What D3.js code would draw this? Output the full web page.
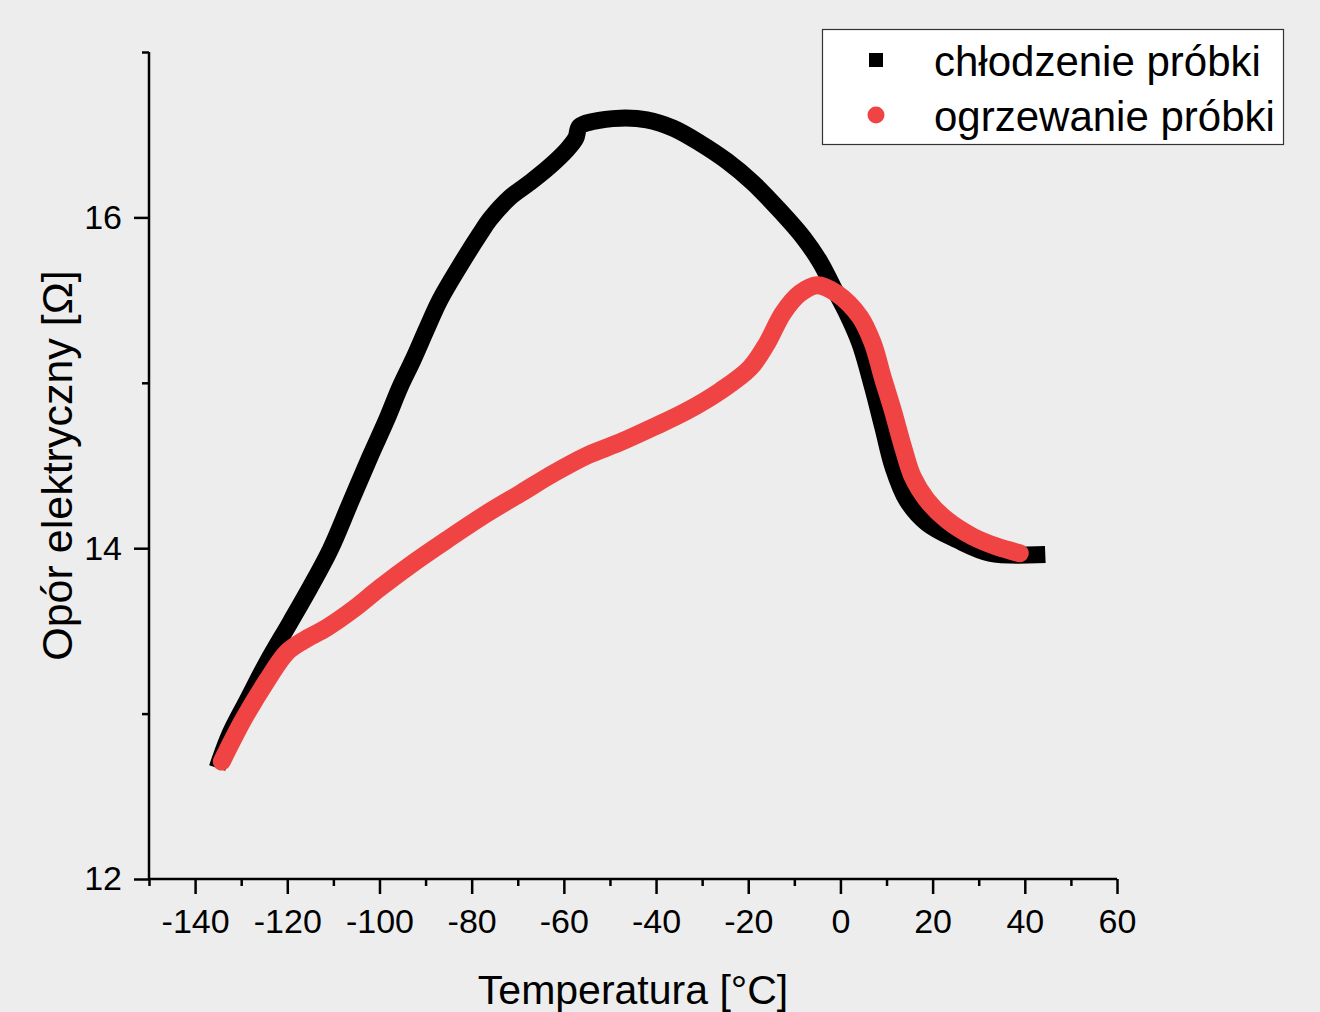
<!DOCTYPE html>
<html><head><meta charset="utf-8">
<script src="https://cdn.jsdelivr.net/npm/d3@7"></script>
<style>
html,body{margin:0;padding:0;background:#ededed;}
svg{display:block;font-family:"Liberation Sans", Arial, Helvetica, sans-serif;}
</style>
</head><body>
<svg id="chart" width="1320" height="1012"></svg>
<script>
// ---- data ----
const seriesNames = ["chłodzenie próbki", "ogrzewanie próbki"];
const coolingT = [42.6, 32.4, 25.3, 18.8, 14.4, 11.4, 9.2, 7.0, 4.2, 1.4, -1.6, -4.4, -8.1, -13.1, -19.0, -24.6, -30.5, -36.3, -42.0, -47.8, -53.7, -56.6, -57.4, -59.3, -63.0, -67.4, -71.7, -76.0, -78.2, -82.5, -86.9, -89.7, -92.7, -95.6, -98.4, -102.1, -106.4, -110.7, -115.1, -119.4, -124.4, -128.7, -132.4, -134.6];
const coolingR = [13.96, 13.97, 14.05, 14.15, 14.29, 14.49, 14.73, 14.97, 15.24, 15.42, 15.58, 15.73, 15.88, 16.04, 16.21, 16.34, 16.45, 16.54, 16.59, 16.60, 16.58, 16.55, 16.48, 16.41, 16.31, 16.21, 16.12, 15.99, 15.90, 15.71, 15.50, 15.33, 15.14, 14.97, 14.78, 14.55, 14.27, 13.99, 13.76, 13.55, 13.31, 13.08, 12.88, 12.72];
const heatingT = [-134.2, -129.6, -124.4, -120.1, -116.6, -111.4, -105.7, -99.9, -92.7, -85.4, -76.7, -69.5, -62.4, -55.0, -47.8, -40.7, -33.3, -26.1, -19.6, -15.9, -12.5, -8.8, -5.1, -0.8, 4.2, 7.0, 9.2, 11.4, 13.6, 15.7, 18.8, 23.1, 28.7, 33.9, 38.9];
const heatingR = [12.71, 12.96, 13.20, 13.37, 13.44, 13.52, 13.63, 13.76, 13.91, 14.05, 14.21, 14.33, 14.45, 14.56, 14.64, 14.73, 14.83, 14.95, 15.09, 15.24, 15.42, 15.54, 15.59, 15.54, 15.40, 15.24, 15.03, 14.83, 14.61, 14.43, 14.29, 14.17, 14.07, 14.01, 13.97];
const xMajorTicks = [-140, -120, -100, -80, -60, -40, -20, 0, 20, 40, 60];
const xMinorTicks = [-150, -130, -110, -90, -70, -50, -30, -10, 10, 30, 50];
const yMajorTicks = [12, 14, 16];
const yMinorTicks = [13, 15, 17];
const xTitle = "Temperatura [°C]";
const yTitle = "Opór elektryczny [Ω]";

// ---- layout ----
const svg = d3.select("#chart");
const mLeft = 149, mRight = 1117, mTop = 52, mBottom = 879;
const x = d3.scaleLinear().domain([-150, 60]).range([mLeft, mRight]);
const y = d3.scaleLinear().domain([12, 17]).range([mBottom, mTop]);

svg.append("rect").attr("width", 1320).attr("height", 1012).attr("fill", "#ededed");

// ---- series ----
const cooling = coolingT.map((t, i) => [t, coolingR[i]]);
const heating = heatingT.map((t, i) => [t, heatingR[i]]);
const line = d3.line().x(d => x(d[0])).y(d => y(d[1])).curve(d3.curveCatmullRom.alpha(0.5));

svg.append("path").datum(cooling)
  .attr("d", line).attr("fill", "none").attr("stroke", "#000")
  .attr("stroke-width", 17).attr("stroke-linecap", "square").attr("stroke-linejoin", "round");
svg.append("path").datum(heating)
  .attr("d", line).attr("fill", "none").attr("stroke", "#f04444")
  .attr("stroke-width", 18).attr("stroke-linecap", "round").attr("stroke-linejoin", "round");

// ---- axes ----
const fs = 34;
function styleAxis(g) {
  g.selectAll(".domain").remove();
  g.selectAll(".tick line").attr("stroke", "#000").attr("stroke-width", 2.5);
  g.selectAll(".tick text").attr("fill", "#000").attr("font-size", fs)
    .attr("font-family", '"Liberation Sans", Arial, sans-serif');
}
svg.append("g").attr("transform", `translate(0,${mBottom})`)
  .call(d3.axisBottom(x).tickValues(xMinorTicks).tickSize(7).tickFormat(""))
  .call(styleAxis);
svg.append("g").attr("transform", `translate(0,${mBottom})`)
  .call(d3.axisBottom(x).tickValues(xMajorTicks).tickSize(15).tickPadding(15).tickFormat(d3.format("d")))
  .call(styleAxis);
svg.append("g").attr("transform", `translate(${mLeft},0)`)
  .call(d3.axisLeft(y).tickValues(yMinorTicks).tickSize(7).tickFormat(""))
  .call(styleAxis);
svg.append("g").attr("transform", `translate(${mLeft},0)`)
  .call(d3.axisLeft(y).tickValues(yMajorTicks).tickSize(15).tickPadding(12).tickFormat(d3.format("d")))
  .call(styleAxis);
svg.selectAll(".tick text").text(function(){ return d3.select(this).text().replace("−", "-"); });

svg.append("line").attr("x1", mLeft).attr("x2", mRight).attr("y1", mBottom).attr("y2", mBottom)
  .attr("stroke", "#000").attr("stroke-width", 2.5);
svg.append("line").attr("x1", mLeft).attr("x2", mLeft).attr("y1", mTop).attr("y2", mBottom)
  .attr("stroke", "#000").attr("stroke-width", 2.5);

// ---- titles ----
svg.append("text").attr("x", (mLeft + mRight) / 2).attr("y", 1004)
  .attr("text-anchor", "middle").attr("font-size", 41).attr("fill", "#000").text(xTitle);
svg.append("text").attr("transform", `translate(72,${(mTop + mBottom) / 2}) rotate(-90)`)
  .attr("text-anchor", "middle").attr("font-size", 43).attr("fill", "#000").text(yTitle);

// ---- legend ----
const lg = svg.append("g");
lg.append("rect").attr("x", 822.5).attr("y", 29.5).attr("width", 461).attr("height", 115)
  .attr("fill", "#fff").attr("stroke", "#333").attr("stroke-width", 1.2);
lg.append("rect").attr("x", 869).attr("y", 53).attr("width", 14).attr("height", 14).attr("fill", "#000");
lg.append("circle").attr("cx", 876).attr("cy", 115).attr("r", 8.5).attr("fill", "#f04444");
lg.selectAll("text.leg").data(seriesNames).enter().append("text")
  .attr("class", "leg").attr("x", 934).attr("y", (d, i) => 76 + i * 55)
  .attr("font-size", 42).attr("fill", "#000").text(d => d);
</script>
</body></html>
